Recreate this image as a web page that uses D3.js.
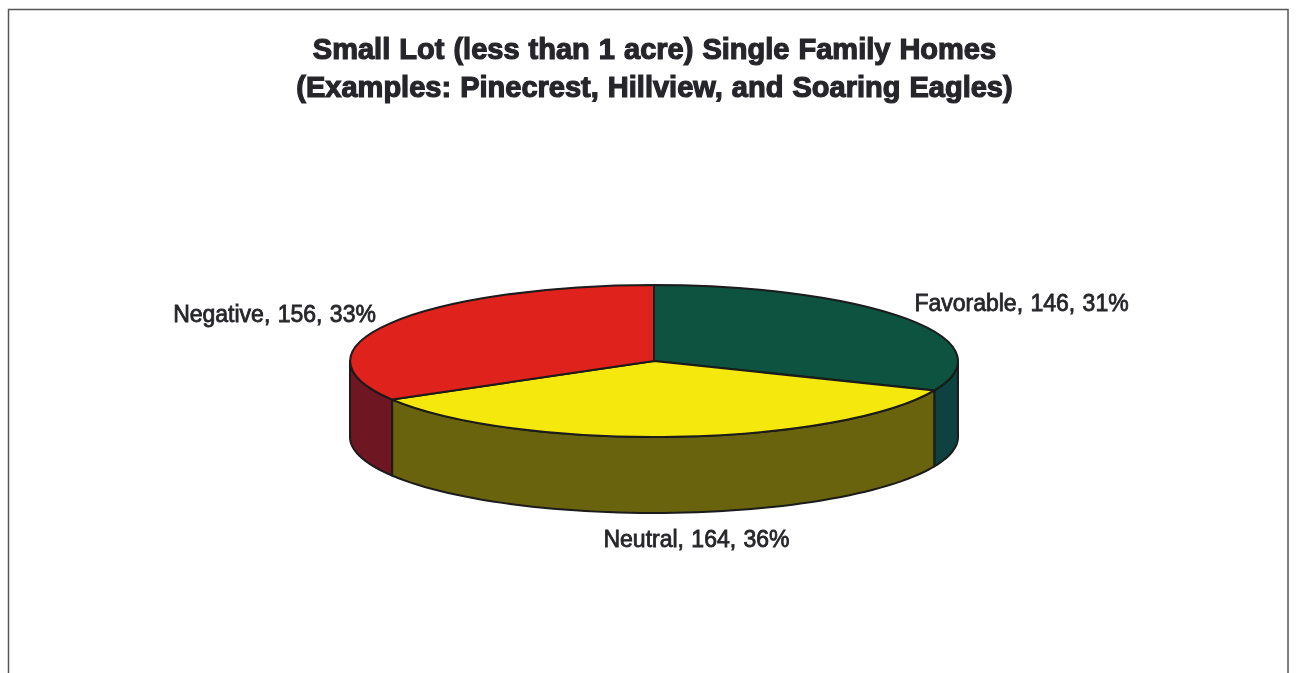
<!DOCTYPE html>
<html><head><meta charset="utf-8">
<script src="https://cdnjs.cloudflare.com/ajax/libs/d3/7.8.5/d3.min.js"></script>
<style>html,body{margin:0;padding:0;background:#fff;overflow:hidden}svg{display:block}
text{font-family:"Liberation Sans",Arial,sans-serif;fill:#26262a}</style></head><body>
<svg id="c" width="1297" height="673"></svg>
<script>
const categories=["Favorable","Neutral","Negative"];
const counts=[146,164,156];
const percentLabels=["31%","36%","33%"];
const topColors=["#0a5240","#f5e80c","#e0201c"];
const sideColors=["#0a4240","#6b6410","#6e1420"];
const titleLines=["Small Lot (less than 1 acre) Single Family Homes","(Examples: Pinecrest, Hillview, and Soaring Eagles)"];

const W=1297,H=673,cx=654,cy=361,rx=304,ry=76,depth=76;
const svg=d3.select("#c");
const x=d3.scaleLinear().domain([-1,1]).range([cx-rx,cx+rx]);
const y=d3.scaleLinear().domain([-1,1]).range([cy-ry,cy+ry]);

const defs=svg.append("defs");
defs.append("filter").attr("id","soft").append("feGaussianBlur").attr("stdDeviation",0.5);

const root=svg.append("g").attr("filter","url(#soft)");
root.append("rect").attr("x",8.5).attr("y",9.5).attr("width",1279.5).attr("height",H+20)
  .attr("fill","#fff").attr("stroke","#55565a").attr("stroke-width",1.5);

root.selectAll("text.title").data(titleLines).join("text").attr("class","title")
  .attr("x",654.5).attr("y",(d,i)=>59+i*38).attr("text-anchor","middle")
  .attr("font-size",29).attr("font-weight","bold").attr("word-spacing",1)
  .attr("stroke","#26262a").attr("stroke-width",1.2).text(d=>d);

const arcs=d3.pie().sort(null)(counts);
const g=root.append("g");
const pt=a=>[x(Math.sin(a)),y(-Math.cos(a))];
// side walls: the visible lower half of each slice's rim
arcs.forEach((d,i)=>{
  const a0=Math.max(d.startAngle,Math.PI/2),a1=Math.min(d.endAngle,Math.PI*1.5);
  if(a1<=a0)return;
  const as=d3.range(61).map(k=>a0+(a1-a0)*k/60);
  const rim=as.map(pt);
  const bottom=rim.slice().reverse().map(p=>[p[0],p[1]+depth]);
  g.append("path").attr("d",d3.line()(rim.concat(bottom))+"Z")
    .attr("fill",sideColors[i]).attr("stroke","#1a1a1a").attr("stroke-width",2).attr("stroke-linejoin","round");
});
// top face: d3 arcs on a unit circle squashed into the ellipse
const arc=d3.arc().innerRadius(0).outerRadius(1);
const face=g.append("g").attr("transform",`translate(${cx},${cy}) scale(${rx},${ry})`);
face.selectAll("path").data(arcs).join("path").attr("d",arc)
  .attr("fill",(d,i)=>topColors[i]).attr("stroke","#1a1a1a").attr("stroke-width",2)
  .attr("vector-effect","non-scaling-stroke").attr("stroke-linejoin","round");

const labelPos=[[1021.5,311],[696.5,547],[274.5,322]];
root.selectAll("text.lab").data(categories).join("text").attr("class","lab")
  .attr("x",(d,i)=>labelPos[i][0]).attr("y",(d,i)=>labelPos[i][1]).attr("text-anchor","middle")
  .attr("font-size",23).attr("word-spacing",1).attr("stroke","#26262a").attr("stroke-width",0.8)
  .text((d,i)=>`${d}, ${counts[i]}, ${percentLabels[i]}`);
</script></body></html>
